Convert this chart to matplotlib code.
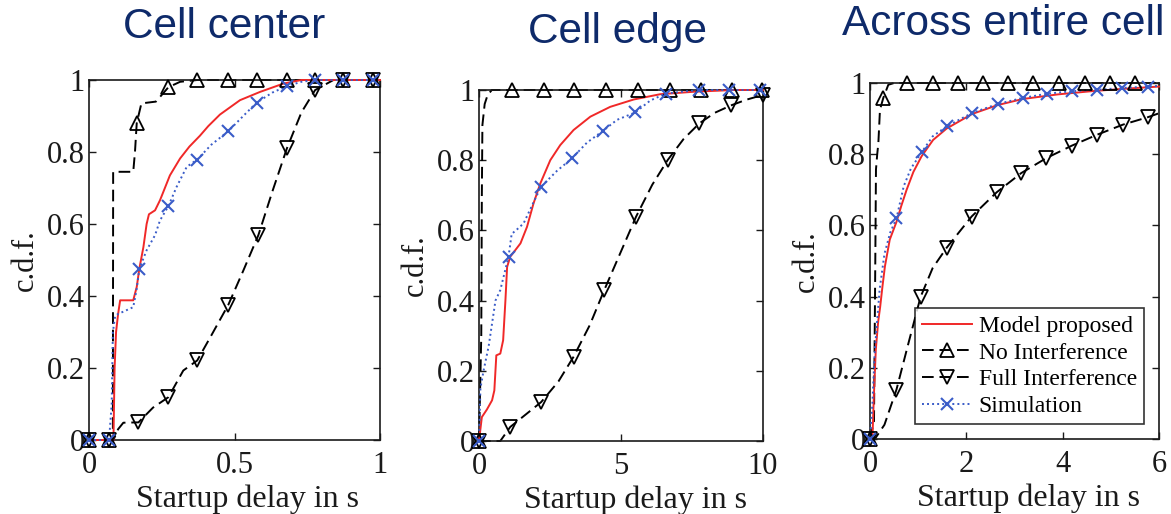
import matplotlib
matplotlib.use("Agg")
import matplotlib.pyplot as plt
from matplotlib.lines import Line2D

# ---------------- data ----------------
titles = ["Cell center", "Cell edge", "Across entire cell"]
xlims = [(0, 1), (0, 10), (0, 6)]
xticks = [[0, 0.5, 1], [0, 5, 10], [0, 2, 4, 6]]
xticklabels = [["0", "0.5", "1"], ["0", "5", "10"], ["0", "2", "4", "6"]]
yticks = [0, 0.2, 0.4, 0.6, 0.8, 1.0]
yticklabels = ["0", "0.2", "0.4", "0.6", "0.8", "1"]
legend_labels = ["Model proposed", "No Interference", "Full Interference", "Simulation"]

# Panel 1: Cell center
c_model_x = [0, 0.069, 0.084, 0.088, 0.093, 0.100, 0.107, 0.152, 0.164, 0.173, 0.187, 0.198,
             0.206, 0.227, 0.244, 0.278, 0.313, 0.345, 0.381, 0.41, 0.45, 0.519, 0.588, 0.668, 0.73, 1.0]
c_model_y = [0, 0, 0, 0.20, 0.30, 0.35, 0.388, 0.388, 0.425, 0.476, 0.536, 0.60,
             0.627, 0.638, 0.666, 0.735, 0.782, 0.815, 0.845, 0.872, 0.904, 0.944, 0.967, 0.99, 1.0, 1.0]
c_noint_x = [0, 0.069, 0.082, 0.083, 0.152, 0.158, 0.164, 0.18, 0.23, 0.273, 0.313, 0.372, 1.0]
c_noint_y = [0, 0, 0, 0.745, 0.745, 0.80, 0.88, 0.935, 0.94, 0.98, 0.995, 1.0, 1.0]
c_noint_mx = [0, 0.069, 0.164, 0.273, 0.372, 0.479, 0.577, 0.679, 0.777, 0.874, 0.977]
c_noint_my = [0, 0, 0.88, 0.98, 1, 1, 1, 1, 1, 1, 1]
c_full_x = [0, 0.069, 0.084, 0.10, 0.118, 0.17, 0.22, 0.273, 0.324, 0.372, 0.42, 0.479,
            0.53, 0.582, 0.63, 0.68, 0.73, 0.777, 0.84, 0.874, 1.0]
c_full_y = [0, 0, 0, 0.03, 0.048, 0.049, 0.09, 0.119, 0.193, 0.221, 0.29, 0.376,
            0.47, 0.569, 0.69, 0.81, 0.91, 0.972, 1.0, 1.0, 1.0]
c_full_mx = [0, 0.069, 0.17, 0.273, 0.372, 0.479, 0.582, 0.68, 0.777, 0.874, 0.977]
c_full_my = [0, 0, 0.049, 0.119, 0.221, 0.376, 0.569, 0.81, 0.972, 1, 1]
c_sim_x = [0, 0.069, 0.078, 0.082, 0.09, 0.10, 0.152, 0.164, 0.173, 0.198, 0.227, 0.244,
           0.273, 0.301, 0.336, 0.372, 0.42, 0.479, 0.53, 0.576, 0.63, 0.68, 0.73, 0.777, 1.0]
c_sim_y = [0, 0, 0.10, 0.30, 0.345, 0.35, 0.369, 0.42, 0.476, 0.527, 0.569, 0.61,
           0.65, 0.703, 0.759, 0.779, 0.82, 0.858, 0.90, 0.937, 0.965, 0.983, 0.995, 1.0, 1.0]
c_sim_mx = [0, 0.069, 0.173, 0.273, 0.372, 0.479, 0.576, 0.68, 0.777, 0.874, 0.977]
c_sim_my = [0, 0, 0.476, 0.65, 0.779, 0.858, 0.937, 0.983, 1, 1, 1]

# Panel 2: Cell edge
e_model_x = [0, 0.1, 0.28, 0.46, 0.54, 0.61, 0.75, 0.85, 0.93, 0.99, 1.1, 1.28, 1.46, 1.69,
             1.92, 2.16, 2.51, 2.86, 3.33, 3.92, 4.62, 5.45, 6.38, 7.56, 8.97, 10]
e_model_y = [0, 0.068, 0.09, 0.116, 0.144, 0.244, 0.249, 0.287, 0.40, 0.496, 0.525, 0.544, 0.563, 0.61,
             0.677, 0.734, 0.80, 0.843, 0.886, 0.924, 0.952, 0.973, 0.988, 0.995, 1.0, 1.0]
e_noint_x = [0, 0.08, 0.10, 0.12, 0.2, 0.3, 0.45, 10]
e_noint_y = [0, 0.3, 0.7, 0.9, 0.96, 0.985, 1.0, 1.0]
e_noint_mx = [0, 1.16, 2.28, 3.33, 4.48, 5.59, 6.74, 7.83, 8.91, 9.96]
e_noint_my = [0, 1, 1, 1, 1, 1, 1, 1, 1, 1]
e_full_x = [0, 0.75, 1.1, 2.19, 2.8, 3.33, 3.9, 4.41, 5.0, 5.53, 6.1, 6.64, 7.2, 7.76,
            8.3, 8.87, 9.4, 10.0]
e_full_y = [0, 0, 0.04, 0.111, 0.17, 0.24, 0.33, 0.43, 0.54, 0.639, 0.73, 0.80, 0.86, 0.905,
            0.935, 0.956, 0.972, 0.986]
e_full_mx = [0, 1.1, 2.19, 3.33, 4.41, 5.53, 6.64, 7.76, 8.87, 10.0]
e_full_my = [0, 0.04, 0.111, 0.24, 0.43, 0.639, 0.80, 0.905, 0.956, 0.986]
e_sim_x = [0, 0.05, 0.16, 0.34, 0.58, 0.75, 1.04, 1.15, 1.3, 1.57, 1.92, 2.18, 2.75, 3.27,
           3.8, 4.37, 4.86, 5.5, 6.03, 6.58, 7.73, 10]
e_sim_y = [0, 0.15, 0.20, 0.27, 0.40, 0.43, 0.525, 0.59, 0.60, 0.62, 0.68, 0.724, 0.77, 0.805,
           0.85, 0.884, 0.915, 0.936, 0.97, 0.99, 1.0, 1.0]
e_sim_mx = [0, 1.04, 2.18, 3.27, 4.37, 5.5, 6.58, 7.73, 8.79, 9.9]
e_sim_my = [0, 0.525, 0.724, 0.805, 0.884, 0.936, 0.99, 1.0, 1.0, 1.0]

# Panel 3: Across entire cell
a_model_x = [0, 0.05, 0.08, 0.12, 0.17, 0.21, 0.26, 0.31, 0.41, 0.55, 0.65, 0.76, 0.9, 1.07,
             1.31, 1.59, 2.12, 2.65, 3.17, 3.9, 4.6, 5.3, 6]
a_model_y = [0, 0, 0.12, 0.25, 0.33, 0.37, 0.43, 0.485, 0.56, 0.61, 0.655, 0.70, 0.75, 0.794,
             0.84, 0.872, 0.913, 0.938, 0.955, 0.968, 0.977, 0.984, 0.99]
a_noint_x = [0, 0.083, 0.11, 0.124, 0.15, 0.173, 0.207, 0.276, 0.38, 0.5, 6]
a_noint_y = [0, 0.05, 0.5, 0.757, 0.80, 0.83, 0.925, 0.958, 0.995, 1.0, 1.0]
a_noint_mx = [0, 0.28, 0.77, 1.31, 1.83, 2.35, 2.87, 3.39, 3.92, 4.46, 4.99, 5.51]
a_noint_my = [0, 0.958, 1, 1, 1, 1, 1, 1, 1, 1, 1, 1]
a_full_x = [0, 0.1, 0.3, 0.55, 0.8, 1.05, 1.3, 1.59, 2.11, 2.63, 3.14, 3.66, 4.19, 4.72,
            5.25, 5.77, 6]
a_full_y = [0, 0, 0.04, 0.139, 0.27, 0.399, 0.48, 0.537, 0.625, 0.693, 0.747, 0.789, 0.824,
            0.855, 0.883, 0.904, 0.915]
a_full_mx = [0, 0.55, 1.05, 1.59, 2.11, 2.63, 3.14, 3.66, 4.19, 4.72, 5.25, 5.77]
a_full_my = [0, 0.139, 0.399, 0.537, 0.625, 0.693, 0.747, 0.789, 0.824, 0.855, 0.883, 0.904]
a_sim_x = [0, 0.05, 0.1, 0.2, 0.3, 0.42, 0.55, 0.7, 0.85, 1.07, 1.3, 1.59, 2.12, 2.65, 3.17,
           3.68, 4.2, 4.72, 5.24, 5.77, 6]
a_sim_y = [0, 0.10, 0.25, 0.42, 0.52, 0.58, 0.62, 0.71, 0.76, 0.805, 0.85, 0.878, 0.916, 0.941,
           0.958, 0.97, 0.977, 0.981, 0.986, 0.99, 0.992]
a_sim_mx = [0, 0.55, 1.07, 1.59, 2.12, 2.65, 3.17, 3.68, 4.2, 4.72, 5.24, 5.77]
a_sim_my = [0, 0.62, 0.805, 0.878, 0.916, 0.941, 0.958, 0.97, 0.977, 0.981, 0.986, 0.99]

panels = [
    dict(model=(c_model_x, c_model_y), noint=(c_noint_x, c_noint_y), noint_m=(c_noint_mx, c_noint_my),
         full=(c_full_x, c_full_y), full_m=(c_full_mx, c_full_my), sim=(c_sim_x, c_sim_y),
         sim_m=(c_sim_mx, c_sim_my)),
    dict(model=(e_model_x, e_model_y), noint=(e_noint_x, e_noint_y), noint_m=(e_noint_mx, e_noint_my),
         full=(e_full_x, e_full_y), full_m=(e_full_mx, e_full_my), sim=(e_sim_x, e_sim_y),
         sim_m=(e_sim_mx, e_sim_my)),
    dict(model=(a_model_x, a_model_y), noint=(a_noint_x, a_noint_y), noint_m=(a_noint_mx, a_noint_my),
         full=(a_full_x, a_full_y), full_m=(a_full_mx, a_full_my), sim=(a_sim_x, a_sim_y),
         sim_m=(a_sim_mx, a_sim_my)),
]

# ---------------- style ----------------
RED = "#f02828"
BLUE = "#3a5cc8"
NAVY = "#0e2a6a"
SERIF = "Liberation Serif"
SANS = "Liberation Sans"
DASH = (6, 3)
DOT = (1, 1.6)

plt.rcParams["font.family"] = SERIF
fig = plt.figure(figsize=(11.71, 5.14), dpi=100)

positions = [
    [89 / 1171, 74 / 514, 291 / 1171, 360 / 514],
    [479 / 1171, 73 / 514, 284 / 1171, 351 / 514],
    [870 / 1171, 75 / 514, 289 / 1171, 356 / 514],
]
title_y = [1.117, 1.134, 1.135]
title_x = [0.464, 0.489, 0.46]
xlabel_x = [0.545, 0.55, 0.548]

for i, p in enumerate(panels):
    ax = fig.add_axes(positions[i])
    ax.plot(*p["model"], color=RED, lw=1.4, zorder=3, clip_on=False)
    ax.plot(*p["noint"], color="black", lw=1.4, dashes=DASH, zorder=2, clip_on=False)
    ax.plot(*p["full"], color="black", lw=1.4, dashes=DASH, zorder=2, clip_on=False)
    ax.plot(*p["sim"], color=BLUE, lw=1.4, dashes=DOT, zorder=3, clip_on=False)
    ax.plot(*p["noint_m"], ls="none", marker="^", ms=10, mfc="none", mec="black", mew=1.3,
            zorder=4, clip_on=False)
    ax.plot(*p["full_m"], ls="none", marker="v", ms=10, mfc="none", mec="black", mew=1.3,
            zorder=4, clip_on=False)
    ax.plot(*p["sim_m"], ls="none", marker="x", ms=8, mec=BLUE, mew=1.5, zorder=5, clip_on=False)

    ax.set_xlim(*xlims[i])
    ax.set_ylim(0, 1)
    ax.set_xticks(xticks[i])
    ax.set_xticklabels(xticklabels[i])
    ax.set_yticks(yticks)
    ax.set_yticklabels(yticklabels)
    ax.tick_params(direction="in", length=5, width=1, top=True, right=True,
                   labelsize=22, colors="#1a1a1a", pad=3)
    ax.tick_params(axis="x", pad=8)
    for s in ax.spines.values():
        s.set_linewidth(1.2)
        s.set_color("#1a1a1a")
    ax.set_xlabel("Startup delay in s", fontsize=23, labelpad=3, color="#1a1a1a")
    ax.xaxis.label.set_x(xlabel_x[i])
    ax.set_ylabel("c.d.f.", fontsize=22, labelpad=5, color="#1a1a1a")
    ax.set_title(titles[i], fontsize=30.5, family=SANS, color=NAVY, x=title_x[i],
                 y=title_y[i], pad=0)

    if i == 2:
        handles = [
            Line2D([], [], color=RED, lw=1.4),
            Line2D([], [], color="black", lw=1.4, dashes=DASH, marker="^", ms=10, mfc="none",
                   mec="black", mew=1.3),
            Line2D([], [], color="black", lw=1.4, dashes=DASH, marker="v", ms=10, mfc="none",
                   mec="black", mew=1.3),
            Line2D([], [], color=BLUE, lw=1.4, dashes=DOT, marker="x", ms=8, mec=BLUE, mew=1.5),
        ]
        leg = ax.legend(handles, legend_labels, loc="lower right", bbox_to_anchor=(0.948, 0.042),
                        fontsize=17, frameon=True, fancybox=False, edgecolor="black",
                        handlelength=2.1, handletextpad=0.3, labelspacing=0.22, borderpad=0.3,
                        borderaxespad=0, numpoints=1)
        leg.get_frame().set_linewidth(1.2)
        leg.set_zorder(10)

fig.savefig("out.png", dpi=100)
